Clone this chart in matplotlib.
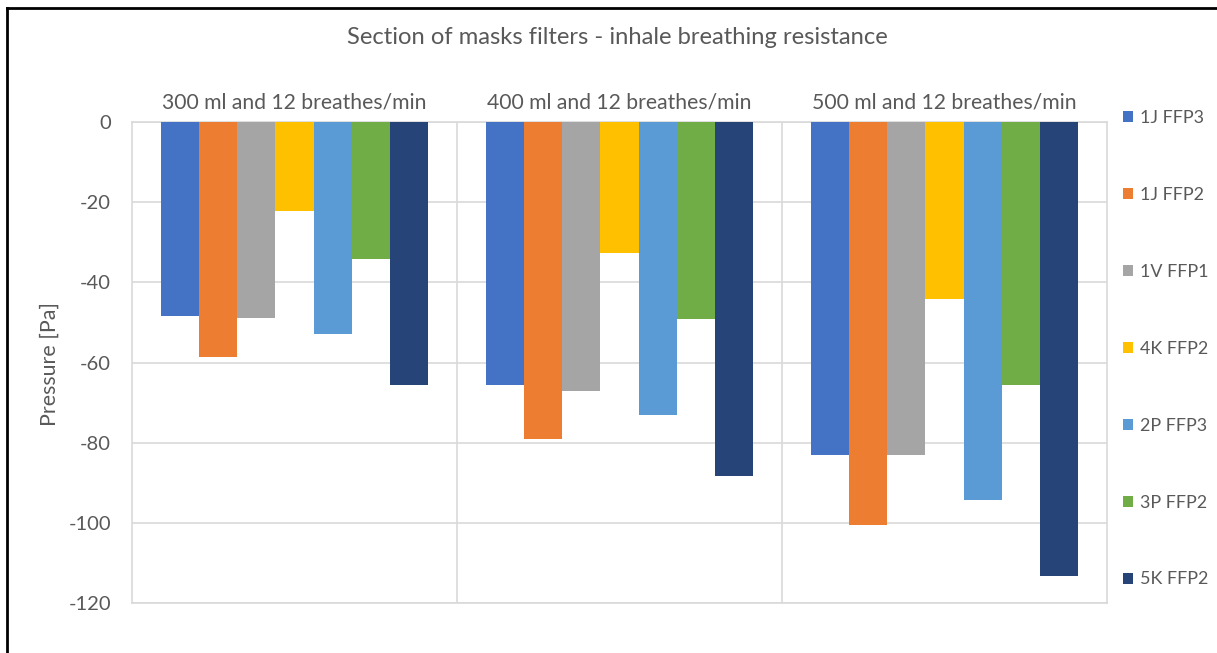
import matplotlib
matplotlib.use("Agg")
import matplotlib.pyplot as plt
from matplotlib.lines import Line2D
from matplotlib.patches import Patch
import numpy as np

categories = ["300 ml and 12 breathes/min", "400 ml and 12 breathes/min", "500 ml and 12 breathes/min"]
series_names = ["1J FFP3", "1J FFP2", "1V FFP1", "4K FFP2", "2P FFP3", "3P FFP2", "5K FFP2"]
s_1J_FFP3 = [-48.5, -65.6, -83.2]
s_1J_FFP2 = [-58.6, -79.2, -100.5]
s_1V_FFP1 = [-49.0, -67.1, -83.2]
s_4K_FFP2 = [-22.2, -32.6, -44.2]
s_2P_FFP3 = [-52.9, -73.2, -94.3]
s_3P_FFP2 = [-34.1, -49.1, -65.6]
s_5K_FFP2 = [-65.5, -88.4, -113.3]
series_values = [s_1J_FFP3, s_1J_FFP2, s_1V_FFP1, s_4K_FFP2, s_2P_FFP3, s_3P_FFP2, s_5K_FFP2]
colors = ["#4472C4", "#ED7D31", "#A5A5A5", "#FFC000", "#5B9BD5", "#70AD47", "#264478"]
y_ticks = [0, -20, -40, -60, -80, -100, -120]

plt.rcParams['font.family'] = ['Lato', 'DejaVu Sans']
TXT = "#595959"
GRID = "#D9D9D9"

W, H = 1217, 653
fig = plt.figure(figsize=(W / 100, H / 100), dpi=100)
ax = fig.add_axes([132 / W, 1 - 603 / H, (1107 - 132) / W, (603 - 122) / H])

x = np.arange(len(categories))
bw = 0.117
n = len(series_names)
for i, (name, vals, c) in enumerate(zip(series_names, series_values, colors)):
    ax.bar(x + (i - (n - 1) / 2) * bw, vals, width=bw, color=c, label=name, zorder=3)

ax.set_xlim(-0.5, len(categories) - 0.5)
ax.set_ylim(-120, 0)
ax.set_yticks(y_ticks)
ax.set_yticklabels([str(v) for v in y_ticks])
ax.xaxis.tick_top()
ax.set_xticks(x)
ax.set_xticklabels(categories)
ax.set_xticks([0.5, 1.5], minor=True)
ax.tick_params(axis='x', which='both', length=0, labelsize=15.2, colors=TXT, pad=7)
ax.tick_params(axis='y', length=0, labelsize=14.5, colors=TXT, pad=15)
ax.grid(axis='y', color=GRID, lw=1.2, zorder=0)
ax.grid(axis='x', which='minor', color=GRID, lw=1.2, zorder=0)
ax.grid(axis='x', which='major', visible=False)
for sp in ax.spines.values():
    sp.set_color(GRID)
    sp.set_linewidth(1.2)

ax.set_ylabel("Pressure [Pa]", fontsize=15.4, color=TXT)
ax.yaxis.set_label_coords((60 - 132) / (1107 - 132), 1 - (364 - 122) / (603 - 122))

fig.text(617 / W, 1 - 38 / H, "Section of masks filters - inhale breathing resistance",
         ha='center', va='center', fontsize=17.1, color=TXT)

handles = [Patch(facecolor=c, edgecolor='none') for c in colors]
leg = fig.legend(handles, series_names, loc='upper left',
                 bbox_to_anchor=(1123 / W, 1 - 110 / H), frameon=False,
                 fontsize=12.9, labelspacing=3.40, handlelength=0.55, handleheight=0.55,
                 handletextpad=0.4, borderpad=0, borderaxespad=0)
for t in leg.get_texts():
    t.set_color(TXT)

# outer border (left and top)
fig.add_artist(Line2D([7 / W, 7 / W], [0, 1 - 8 / H], transform=fig.transFigure, color='black', lw=2))
fig.add_artist(Line2D([7 / W, 1], [1 - 8 / H, 1 - 8 / H], transform=fig.transFigure, color='black', lw=2))

fig.savefig("out.png", dpi=100, facecolor='white')
